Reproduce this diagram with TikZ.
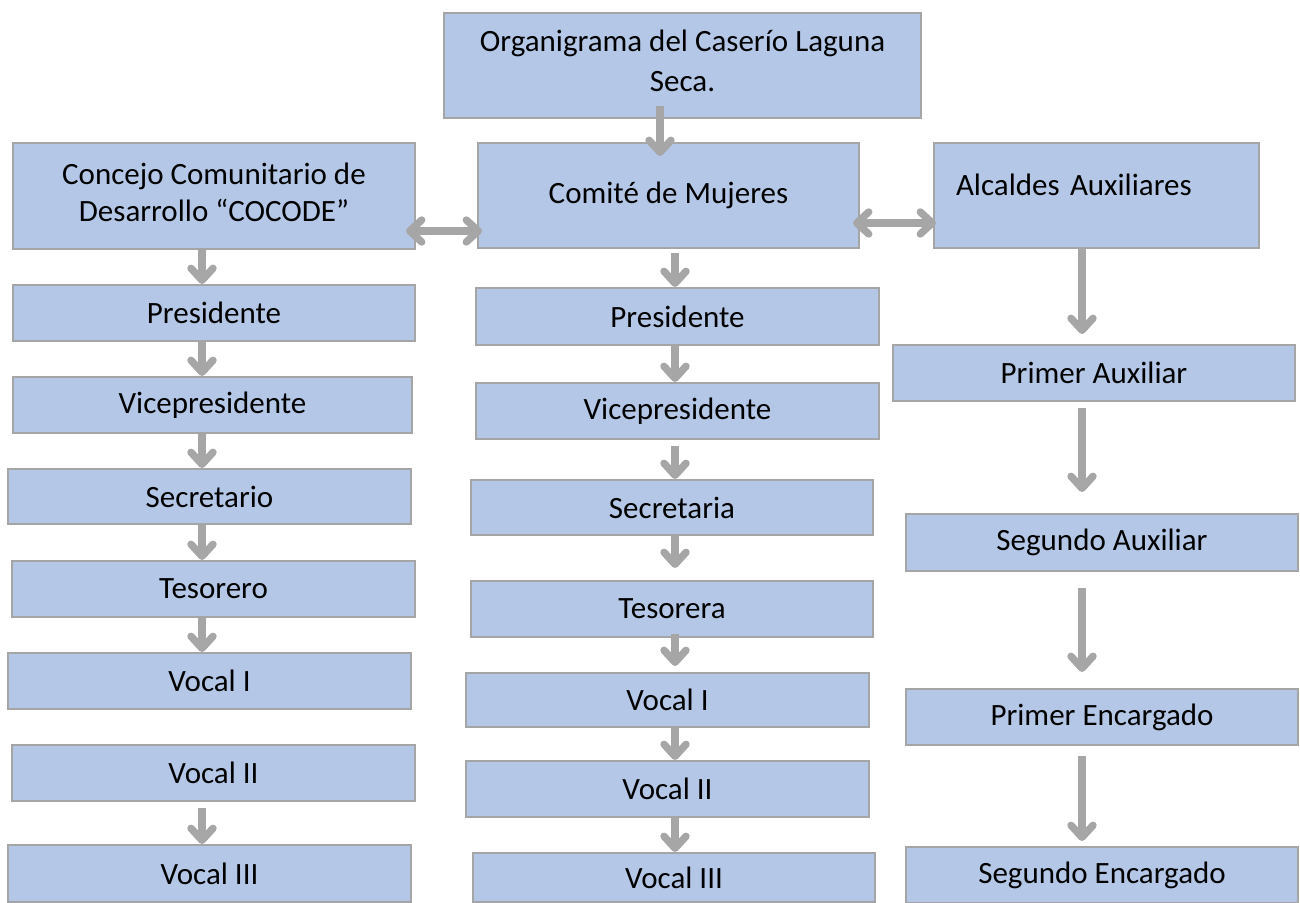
\documentclass[tikz,border=0pt]{standalone}
\usepackage{fontspec}
\setmainfont{Carlito}
\usetikzlibrary{arrows.meta}
\definecolor{azulcaja}{HTML}{B4C7E7}
\definecolor{grisborde}{HTML}{A5A5A5}
\definecolor{grisflecha}{HTML}{A6A6A6}
\tikzset{
  caja/.style={draw=grisborde, fill=azulcaja, line width=1pt, minimum width=201pt, minimum height=28pt,
    inner sep=2pt, align=center, font=\fontsize{15.5}{18.5}\selectfont},
  flecha/.style={grisflecha, line width=3.7pt, -{Straight Barb[length=6pt,width=11pt,round]}},
  dflecha/.style={grisflecha, line width=3.7pt,
    {Straight Barb[length=6pt,width=11pt,round]}-{Straight Barb[length=6pt,width=11pt,round]}}
}
\begin{document}
\begin{tikzpicture}[x=0.5pt,y=-0.5pt]
\useasboundingbox (0,0) rectangle (1300,903);
% columnas de las flechas
\coordinate (xizq) at (202,0);
\coordinate (xcen) at (675,0);
\coordinate (xder) at (1082,0);
\coordinate (xsup) at (660,0);
\coordinate (yizq) at (0,231);
\coordinate (yder) at (0,223);
% caja superior
\node[caja, minimum width=238.5pt, minimum height=52.5pt, font=\fontsize{15.5}{20}\selectfont,
  text depth=5pt] (org) at (682.5,65.5) {Organigrama del Caserío Laguna\\Seca.};
% COCODE
\node[caja, minimum height=53pt, text depth=4pt] (cocode) at (214,196) {Concejo Comunitario de\\Desarrollo “COCODE”};
\node[caja] (ipres) at (214,313) {Presidente};
\node[caja, minimum width=199.5pt] (ivice) at (212.5,405) {Vicepresidente};
\node[caja, minimum width=201.5pt, minimum height=27.5pt] (isec) at (209.5,496.5) {Secretario};
\node[caja, minimum width=201.5pt] (ites) at (213.5,589) {Tesorero};
\node[caja, minimum width=201.5pt] (iv1) at (209.5,681) {Vocal I};
\node[caja, minimum width=201.5pt] (iv2) at (213.5,773) {Vocal II};
\node[caja, minimum width=201.5pt, minimum height=28.5pt] (iv3) at (209.5,873.5) {Vocal III};
% Comité de Mujeres
\node[caja, minimum width=190.5pt, minimum height=52.5pt] (com) at (668.5,195.5) {Comité de Mujeres};
\node[caja, minimum width=201.5pt, minimum height=28.5pt] (cpres) at (677.5,316.5) {Presidente};
\node[caja, minimum width=201.5pt] (cvice) at (677.5,411) {Vicepresidente};
\node[caja, minimum height=27.5pt] (csec) at (672,507.5) {Secretaria};
\node[caja] (ctes) at (672,609) {Tesorera};
\node[caja, minimum width=201.5pt, minimum height=27pt] (cv1) at (667.5,700) {Vocal I};
\node[caja, minimum width=201.5pt] (cv2) at (667.5,789) {Vocal II};
\node[caja, minimum height=24.5pt] (cv3) at (674,877.5) {Vocal III};
% Alcaldes Auxiliares
\node[caja, minimum width=162.5pt, minimum height=52.5pt, text width=140.5pt, inner xsep=11pt,
  align=left, text depth=10.5pt] (alc) at (1096.5,195.5) {Alcaldes Auxiliares};
\node[caja] (dpa) at (1094,373) {Primer Auxiliar};
\node[caja, minimum width=196pt, minimum height=28.5pt] (dsa) at (1102,542.5) {Segundo Auxiliar};
\node[caja, minimum width=196pt] (dpe) at (1102,717) {Primer Encargado};
\node[caja, minimum width=196pt] (dse) at (1102,875) {Segundo Encargado};
% flechas
\draw[flecha, shorten <=-6.5pt, shorten >=-7pt] (org.south -| xsup) -- (com.north -| xsup);
\draw[dflecha, shorten <=-5pt, shorten >=-2.5pt] (cocode.east |- yizq) -- (com.west |- yizq);
\draw[dflecha, shorten <=-3.5pt, shorten >=-1.5pt] (com.east |- yder) -- (alc.west |- yder);
% flechas COCODE
\draw[flecha] (cocode.south -| xizq) -- (ipres.north -| xizq);
\draw[flecha] (ipres.south -| xizq) -- (ivice.north -| xizq);
\draw[flecha] (ivice.south -| xizq) -- (isec.north -| xizq);
\draw[flecha] (isec.south -| xizq) -- (ites.north -| xizq);
\draw[flecha] (ites.south -| xizq) -- (iv1.north -| xizq);
\draw[flecha, shorten <=3pt] (iv2.south -| xizq) -- (iv3.north -| xizq);
% flechas Comité
\draw[flecha, shorten <=2pt] (com.south -| xcen) -- (cpres.north -| xcen);
\draw[flecha] (cpres.south -| xcen) -- (cvice.north -| xcen);
\draw[flecha, shorten <=3pt] (cvice.south -| xcen) -- (csec.north -| xcen);
\draw[flecha, shorten >=6pt] (csec.south -| xcen) -- (ctes.north -| xcen);
\draw[flecha, shorten <=-2pt, shorten >=3pt] (ctes.south -| xcen) -- (cv1.north -| xcen);
\draw[flecha] (cv1.south -| xcen) -- (cv2.north -| xcen);
\draw[flecha] (cv2.south -| xcen) -- (cv3.north -| xcen);
% flechas Alcaldes
\draw[flecha, shorten >=5pt] (alc.south -| xder) -- (dpa.north -| xder);
\draw[flecha, shorten <=3pt, shorten >=10.5pt] (dpa.south -| xder) -- (dsa.north -| xder);
\draw[flecha, shorten <=8pt, shorten >=8pt] (dsa.south -| xder) -- (dpe.north -| xder);
\draw[flecha, shorten <=5pt, shorten >=2.5pt] (dpe.south -| xder) -- (dse.north -| xder);
\end{tikzpicture}
\end{document}
